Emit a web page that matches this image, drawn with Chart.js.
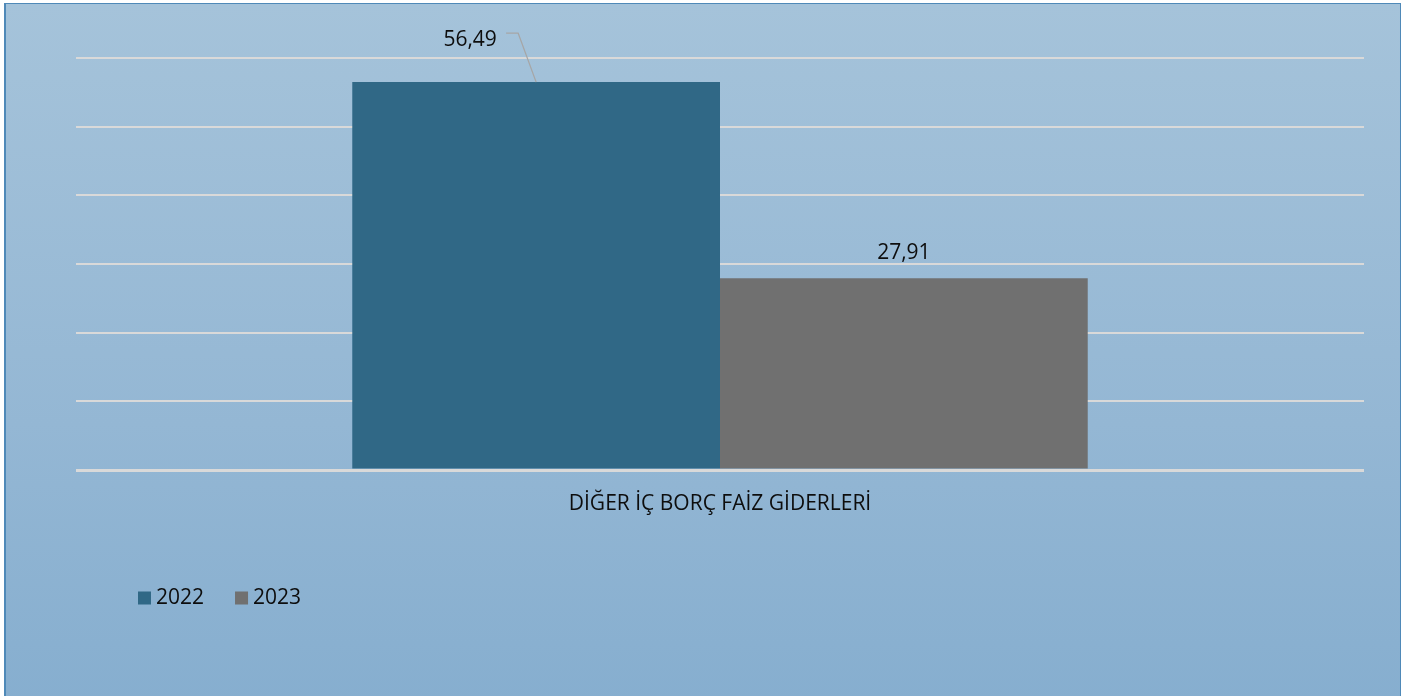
<!DOCTYPE html>
<html>
<head>
<meta charset="utf-8">
<script src="https://cdn.jsdelivr.net/npm/chart.js@4/dist/chart.umd.min.js"></script>
<style>
    html, body { margin: 0; padding: 0; background: #ffffff; overflow: hidden; }
    #box {
        position: absolute;
        left: 4px; top: 3px;
        width: 1397px; height: 720px;
        box-sizing: border-box;
        border: 1px solid #4f89b8;
        border-left-width: 2px;
        background: linear-gradient(to bottom, #a5c3da 0px, #94b7d4 420px, #86aecf 700px);
    }
    #chart { position: absolute; left: 0; top: 0; }
</style>
</head>
<body>
<div id="box"><canvas id="chart" width="1394" height="692"></canvas></div>
<script>
// chart data
const categories = ['DİĞER İÇ BORÇ FAİZ GİDERLERİ'];
const seriesNames = ['2022', '2023'];
const values2022 = [56.49];
const values2023 = [27.91];
const yTicks = [0, 10, 20, 30, 40, 50, 60];

const COLORS = {
    bar2022: '#306886',
    bar2023: '#707070',
    grid: '#d9d9d9',
    text: '#0d0d0d',
    leader: '#a6a6a6',
};
const FONT = "'Open Sans', 'Liberation Sans', sans-serif";
const FONT_SIZE = 21;

Chart.defaults.font.family = FONT;
Chart.defaults.font.size = FONT_SIZE;
Chart.defaults.color = COLORS.text;

const fmt = v => v.toFixed(2).replace('.', ',');

// value labels (first one sits up-left with a leader line, like the original)
const valueLabels = {
    id: 'valueLabels',
    afterDatasetsDraw(chart) {
        const ctx = chart.ctx;
        ctx.save();
        ctx.font = FONT_SIZE + 'px ' + FONT;
        ctx.fillStyle = COLORS.text;
        ctx.textAlign = 'center';
        ctx.textBaseline = 'middle';
        chart.data.datasets.forEach((ds, i) => {
            const meta = chart.getDatasetMeta(i);
            meta.data.forEach((bar, j) => {
                const txt = fmt(ds.data[j]);
                if (i === 0) {
                    ctx.strokeStyle = COLORS.leader;
                    ctx.lineWidth = 1.3;
                    ctx.beginPath();
                    ctx.moveTo(bar.x - 30, bar.y - 49);
                    ctx.lineTo(bar.x - 18, bar.y - 49);
                    ctx.lineTo(bar.x, bar.y);
                    ctx.stroke();
                    ctx.fillText(txt, bar.x - 66, bar.y - 42);
                } else {
                    ctx.fillText(txt, bar.x, bar.y - 25);
                }
            });
        });
        ctx.restore();
    }
};

// legend drawn at the lower left
const bottomLegend = {
    id: 'bottomLegend',
    afterDraw(chart) {
        const ctx = chart.ctx;
        ctx.save();
        ctx.font = FONT_SIZE + 'px ' + FONT;
        ctx.textBaseline = 'middle';
        ctx.textAlign = 'left';
        let x = 132;
        const y = 594;
        chart.data.datasets.forEach(ds => {
            ctx.fillStyle = ds.backgroundColor;
            ctx.fillRect(x, y - 6.5, 13, 13);
            ctx.fillStyle = COLORS.text;
            ctx.fillText(ds.label, x + 18, y);
            x += 18 + ctx.measureText(ds.label).width + 31;
        });
        ctx.restore();
    }
};

new Chart(document.getElementById('chart'), {
    type: 'bar',
    data: {
        labels: categories,
        datasets: [
            { label: seriesNames[0], data: values2022, backgroundColor: COLORS.bar2022 },
            { label: seriesNames[1], data: values2023, backgroundColor: COLORS.bar2023 },
        ]
    },
    options: {
        responsive: false,
        animation: false,
        layout: { padding: { left: 70, right: 36, top: 54, bottom: 0 } },
        datasets: { bar: { categoryPercentage: 0.571, barPercentage: 1.0 } },
        scales: {
            x: {
                grid: { display: false, drawTicks: false },
                border: { display: false },
                ticks: { padding: 21, color: COLORS.text, font: { size: FONT_SIZE } },
                afterFit: s => { s.height = 226; },
            },
            y: {
                min: yTicks[0],
                max: yTicks[yTicks.length - 1],
                afterBuildTicks: s => { s.ticks = yTicks.map(v => ({ value: v })); },
                ticks: { display: false },
                border: { display: false },
                grid: {
                    color: COLORS.grid,
                    drawTicks: false,
                    lineWidth: c => (c.tick && c.tick.value === 0 ? 3 : 2),
                },
            }
        },
        plugins: {
            legend: { display: false },
            tooltip: { enabled: false },
        }
    },
    plugins: [valueLabels, bottomLegend]
});
</script>
</body>
</html>
